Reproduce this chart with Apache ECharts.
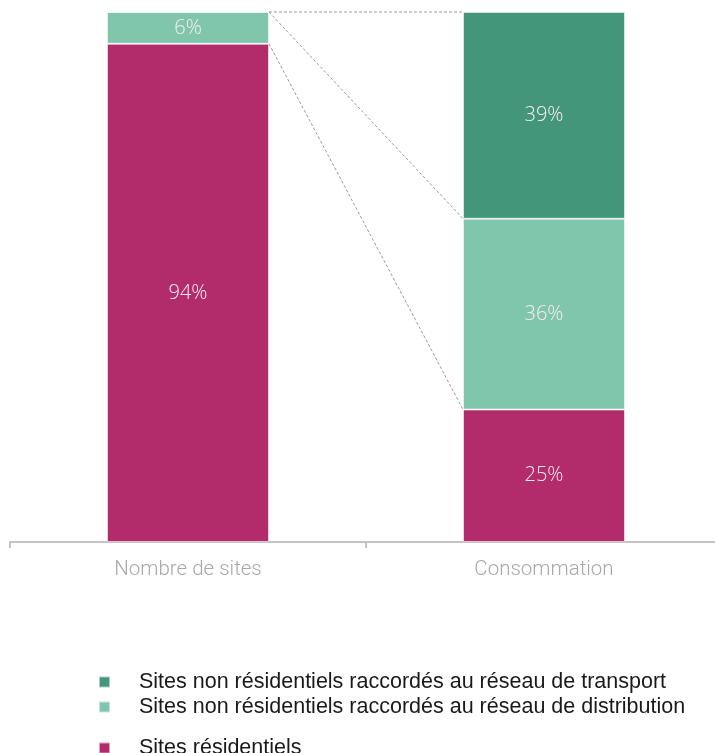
<!DOCTYPE html>
<html>
<head>
<meta charset="utf-8">
<script src="https://cdn.jsdelivr.net/npm/echarts@6/dist/echarts.min.js"></script>
<style>
  html, body { margin: 0; padding: 0; background: #fff; overflow: hidden; }
  #frame { width: 715px; height: 753px; overflow: hidden; }
  #chart { width: 740px; height: 753px; }
</style>
</head>
<body>
<div id="frame"><div id="chart"></div></div>
<script>
// Répartition des sites et de la consommation (%)
const categories = ['Nombre de sites', 'Consommation'];
const residentiel = [94, 25];
const distribution = [6, 36];
const transport = [0, 39];

const seriesNames = [
  'Sites non résidentiels raccordés au réseau de transport',
  'Sites non résidentiels raccordés au réseau de distribution',
  'Sites résidentiels'
];

const colors = {
  transport: '#44967A',
  distribution: '#80C6AC',
  residentiel: '#B22B6B'
};

const BAR_FRACTION = 0.455;

// Connector lines: from the right edge of the first bar to the left edge of the second
const stackTop = (i) => residentiel[i] + distribution[i] + transport[i];
const connectors = [
  [stackTop(0), stackTop(1)],
  [stackTop(0), residentiel[1] + distribution[1]],
  [residentiel[0], residentiel[1]]
];

const chart = echarts.init(document.getElementById('chart'));

const labelStyle = {
  show: true,
  position: 'inside',
  color: '#f7eef2',
  fontFamily: 'Open Sans',
  fontWeight: 300,
  fontSize: 20,
  formatter: (p) => p.value > 0 ? p.value + '%' : ''
};

const itemBorder = { borderColor: 'rgba(255,255,255,0.55)', borderWidth: 1 };

function legendAt(name, color, top) {
  return {
    data: [{ name: name, itemStyle: { color: color } }],
    orient: 'vertical',
    left: 93,
    top: top,
    icon: 'rect',
    itemWidth: 11,
    itemHeight: 11,
    selectedMode: false,
    textStyle: {
      fontFamily: 'Liberation Sans',
      fontSize: 21.5,
      color: '#1a1a1a',
      padding: [0, 0, 0, 24]
    }
  };
}

chart.setOption({
  animation: false,
  // the plot runs slightly past the visible right edge
  grid: { left: 10, top: 12, width: 712, height: 530, containLabel: false },
  legend: [
    legendAt(seriesNames[0], colors.transport, 666),
    legendAt(seriesNames[1], colors.distribution, 691),
    legendAt(seriesNames[2], colors.residentiel, 732)
  ],
  xAxis: {
    type: 'category',
    data: categories,
    axisLine: { show: true, lineStyle: { color: '#c4c4c4', width: 2 } },
    axisTick: { show: true, length: 6, lineStyle: { color: '#c4c4c4', width: 2 } },
    axisLabel: {
      color: '#a8a8a8',
      fontFamily: 'Roboto',
      fontWeight: 300,
      fontSize: 20.5,
      margin: 17
    }
  },
  yAxis: {
    type: 'value',
    min: 0,
    max: 100,
    show: false,
    splitLine: { show: false }
  },
  series: [
    {
      name: seriesNames[2],
      type: 'bar',
      stack: 'total',
      barWidth: (BAR_FRACTION * 100) + '%',
      data: residentiel,
      itemStyle: Object.assign({ color: colors.residentiel }, itemBorder),
      label: labelStyle
    },
    {
      name: seriesNames[1],
      type: 'bar',
      stack: 'total',
      data: distribution,
      itemStyle: Object.assign({ color: colors.distribution }, itemBorder),
      label: labelStyle
    },
    {
      name: seriesNames[0],
      type: 'bar',
      stack: 'total',
      data: transport,
      itemStyle: Object.assign({ color: colors.transport }, itemBorder),
      label: labelStyle
    },
    {
      type: 'custom',
      silent: true,
      z: 1,
      data: connectors,
      renderItem: function (params, api) {
        const bandW = api.size([1, 0])[0];
        const half = bandW * BAR_FRACTION / 2;
        const p1 = api.coord([0, api.value(0)]);
        const p2 = api.coord([1, api.value(1)]);
        return {
          type: 'line',
          shape: { x1: p1[0] + half, y1: p1[1], x2: p2[0] - half, y2: p2[1] },
          style: { stroke: '#9a9a9a', lineWidth: 1, lineDash: [3, 2] }
        };
      }
    }
  ]
});
</script>
</body>
</html>
